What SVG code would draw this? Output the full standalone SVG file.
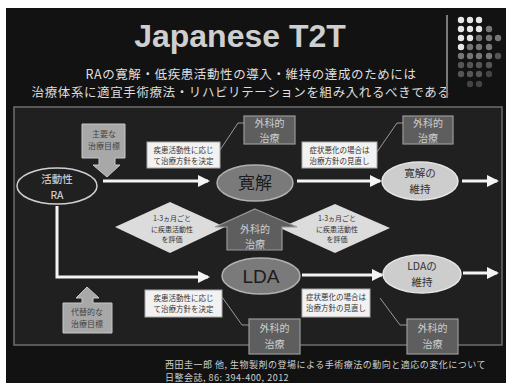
<svg xmlns="http://www.w3.org/2000/svg" width="506" height="384" viewBox="0 0 506 384">
<style>
.jp{font-family:"Noto Sans CJK JP","Noto Sans",sans-serif;}
.sb{fill:#5e5e5e;stroke:#9a9a9a;stroke-width:1.2;}
.sbt{fill:#cfcfcf;font-size:10px;text-anchor:middle;}
.wb{fill:#f2f2f2;stroke:#aaa;stroke-width:1;}
.wbt{fill:#333;font-size:7.5px;text-anchor:middle;}
.dm{fill:#dcdcdc;}
.dmt{fill:#333;font-size:7px;text-anchor:middle;}
.arr{stroke:#f4f4f4;stroke-width:3;fill:none;marker-end:url(#ah);}
.call{stroke:#9a9a9a;stroke-width:1;fill:none;}
.ga{fill:#a8a8a8;stroke:#c8c8c8;stroke-width:1;}
.gat{fill:#444;font-size:8px;text-anchor:middle;}
.et{font-size:10.5px;text-anchor:middle;}
</style>
<defs>
<marker id="ah" markerUnits="userSpaceOnUse" markerWidth="12" markerHeight="12" refX="10" refY="6" orient="auto">
<path d="M0,0 L12,6 L0,12 Z" fill="#f4f4f4"/>
</marker>
</defs>
<rect x="0" y="0" width="506" height="384" fill="#ffffff"/>
<rect x="6" y="8" width="500" height="375" fill="#121212"/>
<g id="title">
<text x="240" y="47" font-family="Liberation Sans, Arial, sans-serif" font-weight="bold" font-size="32" fill="#cfcfcf" text-anchor="middle">Japanese T2T</text>
<text class="jp" x="251" y="79" font-size="12.5" letter-spacing="0.6" fill="#dedede" text-anchor="middle">RAの寛解・低疾患活動性の導入・維持の達成のためには</text>
<text class="jp" x="241" y="97" font-size="12.5" letter-spacing="0.6" fill="#dedede" text-anchor="middle">治療体系に適宜手術療法・リハビリテーションを組み入れるべきである</text>
</g>
<g id="decor">
<line x1="447" y1="15" x2="447" y2="98" stroke="#7a7a7a" stroke-width="2"/>
<g fill="#e8e8e8">
<circle cx="461" cy="20" r="3.2"/><circle cx="470" cy="20" r="3.2"/><circle cx="479" cy="20" r="3.2"/>
<circle cx="461" cy="29" r="3.2"/><circle cx="470" cy="29" r="3.2"/><circle cx="479" cy="29" r="3.2"/>
<circle cx="461" cy="38" r="3.2"/><circle cx="470" cy="38" r="3.2"/>
<circle cx="461" cy="47" r="3.2"/>
</g>
<g fill="#767676">
<circle cx="489" cy="29" r="3.2"/>
<circle cx="479" cy="38" r="3.2"/><circle cx="489" cy="38" r="3.2"/><circle cx="498" cy="38" r="3.2"/>
<circle cx="470" cy="47" r="3.2"/><circle cx="479" cy="47" r="3.2"/><circle cx="489" cy="47" r="3.2"/>
<circle cx="461" cy="56" r="3.2"/><circle cx="470" cy="56" r="3.2"/><circle cx="479" cy="56" r="3.2"/><circle cx="489" cy="56" r="3.2"/>
</g>
<g fill="#555">
<circle cx="498" cy="56" r="3.2"/>
<circle cx="461" cy="65" r="3.2"/><circle cx="470" cy="65" r="3.2"/><circle cx="479" cy="65" r="3.2"/><circle cx="489" cy="65" r="3.2"/>
<circle cx="461" cy="74" r="3.2"/><circle cx="470" cy="74" r="3.2"/><circle cx="479" cy="74" r="3.2"/><circle cx="489" cy="74" r="3.2" fill="#444"/>
<circle cx="470" cy="84" r="3.2" fill="#444"/><circle cx="479" cy="84" r="3.2" fill="#444"/>
</g>
</g>
<rect x="14" y="107" width="488" height="238" fill="#202020" stroke="#6e6e6e" stroke-width="1.5"/>
<g id="connectors">
<line class="arr" x1="103" y1="181" x2="208" y2="181"/>
<line class="arr" x1="297" y1="181" x2="380" y2="181"/>
<line class="arr" x1="462" y1="181" x2="497" y2="181"/>
<polyline class="arr" points="57,206 57,277 208,277"/>
<line class="arr" x1="302" y1="275" x2="382" y2="275"/>
<line class="arr" x1="463" y1="273" x2="497" y2="273"/>
<polyline class="call" points="220,150 238,123 244,123"/>
<polyline class="call" points="377,152 397,123 403,123"/>
<polyline class="call" points="222,297 242,325 249,325"/>
<polyline class="call" points="380,298 400,325 407,325"/>
</g>
<g id="ra">
<ellipse cx="57" cy="186" rx="40" ry="18" fill="none" stroke="#cfcfcf" stroke-width="1.5"/>
<text class="jp et" x="57" y="183" fill="#e0e0e0">活動性</text>
<text class="jp et" x="57" y="198.5" fill="#e0e0e0">RA</text>
</g>
<g id="primary-goal">
<path class="ga" d="M82,124 H125 V158 H115 V165 H120 L107,177 L93,165 H99 V158 H82 Z"/>
<text class="jp gat" x="104" y="137">主要な</text>
<text class="jp gat" x="104" y="149">治療目標</text>
</g>
<g id="alt-goal">
<path class="ga" d="M87,287 L99,298 H93 V303 H112 V333 H63 V303 H82 V298 H76 Z"/>
<text class="jp gat" x="87" y="315">代替的な</text>
<text class="jp gat" x="87" y="327">治療目標</text>
</g>
<g id="diamond-left">
<polygon class="dm" points="115,227 170,202 225,227 170,253"/>
<text class="jp dmt" x="172" y="221">1-3ヵ月ごと</text>
<text class="jp dmt" x="172" y="231.5">に疾患活動性</text>
<text class="jp dmt" x="172" y="242">を評価</text>
</g>
<g id="diamond-right">
<polygon class="dm" points="280,228 335,204 390,228 335,253"/>
<text class="jp dmt" x="337" y="221">1-3ヵ月ごと</text>
<text class="jp dmt" x="337" y="231.5">に疾患活動性</text>
<text class="jp dmt" x="337" y="242">を評価</text>
</g>
<g id="surgery-center">
<path class="sb" d="M255,209 L297,227 H282 V250 H227 V227 H215 Z"/>
<text class="jp sbt" x="255" y="233">外科的</text>
<text class="jp sbt" x="255" y="247.5">治療</text>
</g>
<g id="box-tl">
<rect class="wb" x="147" y="142" width="73" height="26"/>
<text class="jp wbt" x="183.5" y="153">疾患活動性に応じ</text>
<text class="jp wbt" x="183.5" y="164">て治療方針を決定</text>
</g>
<g id="surgery-1">
<rect class="sb" x="244" y="116" width="51" height="28"/>
<text class="jp sbt" x="269.5" y="127">外科的</text>
<text class="jp sbt" x="269.5" y="141.5">治療</text>
</g>
<g id="kankai">
<ellipse cx="255" cy="183" rx="38" ry="18" fill="#7a7a7a" stroke="#b0b0b0" stroke-width="1.5"/>
<text class="jp" x="255" y="189" font-size="17" fill="#1c1c1c" text-anchor="middle">寛解</text>
</g>
<g id="box-tr">
<rect class="wb" x="302" y="142" width="75" height="26"/>
<text class="jp wbt" x="339.5" y="153">症状悪化の場合は</text>
<text class="jp wbt" x="339.5" y="164">治療方針の見直し</text>
</g>
<g id="surgery-2">
<rect class="sb" x="403" y="116" width="50" height="28"/>
<text class="jp sbt" x="428" y="127">外科的</text>
<text class="jp sbt" x="428" y="141.5">治療</text>
</g>
<g id="kankai-keep">
<ellipse cx="420" cy="181" rx="38" ry="19" fill="#cdcdcd" stroke="#e6e6e6" stroke-width="1.5"/>
<text class="jp et" x="420" y="177" fill="#333">寛解の</text>
<text class="jp et" x="420" y="192.5" fill="#333">維持</text>
</g>
<g id="lda">
<ellipse cx="261" cy="276" rx="39" ry="18" fill="#7a7a7a" stroke="#b0b0b0" stroke-width="1.5"/>
<text x="261" y="283" font-family="Liberation Sans, Arial, sans-serif" font-size="19" fill="#1c1c1c" text-anchor="middle">LDA</text>
</g>
<g id="lda-keep">
<ellipse cx="422" cy="274" rx="39" ry="19" fill="#cdcdcd" stroke="#e6e6e6" stroke-width="1.5"/>
<text class="jp et" x="422" y="270" fill="#333">LDAの</text>
<text class="jp et" x="422" y="285.5" fill="#333">維持</text>
</g>
<g id="box-bl">
<rect class="wb" x="145" y="290" width="77" height="27"/>
<text class="jp wbt" x="183.5" y="301">疾患活動性に応じ</text>
<text class="jp wbt" x="183.5" y="312">て治療方針を決定</text>
</g>
<g id="box-br">
<rect class="wb" x="302" y="289" width="68" height="28"/>
<text class="jp wbt" x="336" y="300">症状悪化の場合は</text>
<text class="jp wbt" x="336" y="311">治療方針の見直し</text>
</g>
<g id="surgery-3">
<rect class="sb" x="249" y="319" width="51" height="35"/>
<text class="jp sbt" x="274.5" y="332">外科的</text>
<text class="jp sbt" x="274.5" y="348">治療</text>
</g>
<g id="surgery-4">
<rect class="sb" x="407" y="319" width="51" height="35"/>
<text class="jp sbt" x="432.5" y="332">外科的</text>
<text class="jp sbt" x="432.5" y="348">治療</text>
</g>
<g id="citation">
<text class="jp" x="165" y="368" font-size="9" letter-spacing="0.5" fill="#cfcfcf">西田圭一郎 他, 生物製剤の登場による手術療法の動向と適応の変化について</text>
<text class="jp" x="165" y="381" font-size="9" letter-spacing="0.5" fill="#cfcfcf">日整会誌, 86: 394-400, 2012</text>
</g>
</svg>
